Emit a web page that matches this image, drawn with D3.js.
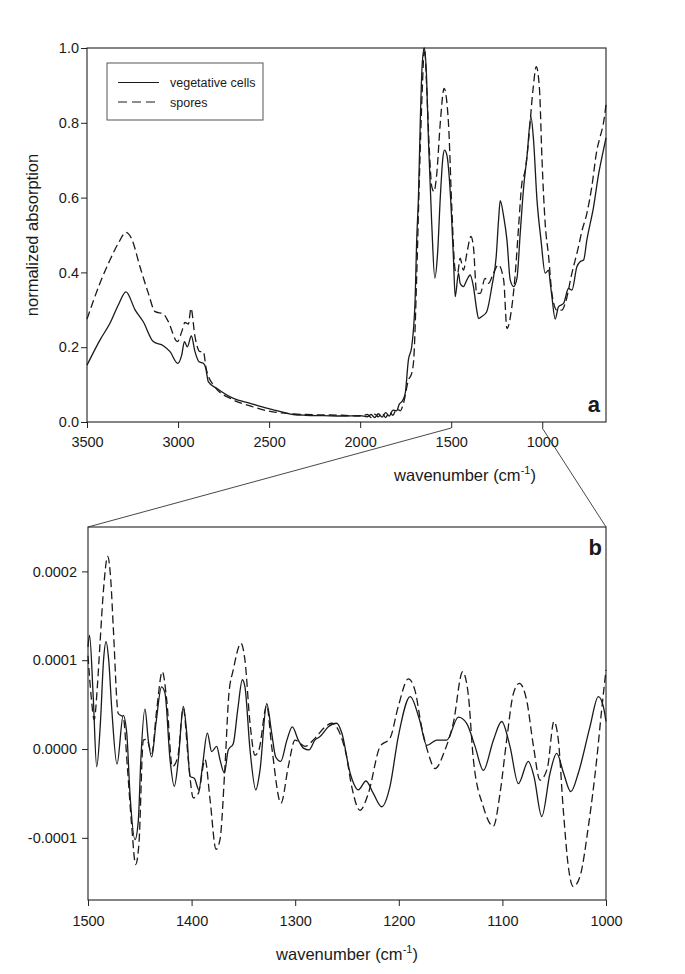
<!DOCTYPE html>
<html>
<head>
<meta charset="utf-8">
<script src="https://cdn.jsdelivr.net/npm/d3@7"></script>
<style>
  body { margin: 0; background: #fff; }
  svg { font-family: "Liberation Sans", Arial, sans-serif; }
  .tick text { fill: #1a1a1a; }
  .tick line { stroke: #222; }
</style>
</head>
<body>
<svg id="chart" width="685" height="974"></svg>
<script>
// ---- panel a: normalized absorption spectra ----
const vegWn = [3500, 3429, 3374, 3328, 3286, 3236, 3191, 3136, 3081, 3044, 3002, 2980, 2965, 2949, 2927, 2907, 2885, 2861, 2848, 2834, 2788, 2696, 2604, 2513, 2421, 2367, 2300, 2200, 2100, 2000, 1960, 1940, 1920, 1900, 1880, 1860, 1840, 1820, 1800, 1785, 1770, 1753, 1735, 1717, 1698, 1690, 1680, 1670, 1660, 1648, 1636, 1625, 1607, 1590, 1575, 1560, 1545, 1537, 1524, 1506, 1488, 1478, 1460, 1451, 1433, 1414, 1396, 1378, 1360, 1350, 1332, 1305, 1277, 1253, 1240, 1231, 1212, 1194, 1176, 1157, 1139, 1121, 1102, 1084, 1062, 1048, 1029, 1007, 984, 965, 956, 947, 929, 911, 883, 856, 837, 810, 791, 773, 755, 718, 690, 672, 650];
const vegAbs = [0.152, 0.219, 0.264, 0.313, 0.348, 0.30, 0.268, 0.215, 0.204, 0.188, 0.157, 0.179, 0.215, 0.201, 0.23, 0.188, 0.161, 0.157, 0.144, 0.108, 0.09, 0.063, 0.05, 0.037, 0.026, 0.02, 0.018, 0.017, 0.016, 0.017, 0.014, 0.02, 0.012, 0.022, 0.013, 0.025, 0.016, 0.032, 0.03, 0.048, 0.055, 0.075, 0.166, 0.201, 0.33, 0.48, 0.60, 0.80, 0.95, 1.0, 0.93, 0.754, 0.531, 0.385, 0.45, 0.60, 0.71, 0.727, 0.714, 0.62, 0.442, 0.335, 0.398, 0.371, 0.362, 0.38, 0.393, 0.362, 0.30, 0.277, 0.282, 0.295, 0.362, 0.442, 0.54, 0.592, 0.55, 0.487, 0.38, 0.362, 0.384, 0.505, 0.629, 0.709, 0.816, 0.754, 0.594, 0.487, 0.398, 0.406, 0.371, 0.335, 0.275, 0.308, 0.317, 0.357, 0.353, 0.415, 0.429, 0.433, 0.487, 0.576, 0.665, 0.709, 0.76];

const sporeWn = [3500, 3429, 3374, 3328, 3286, 3255, 3209, 3163, 3126, 3081, 3053, 3004, 2980, 2962, 2943, 2929, 2907, 2879, 2861, 2846, 2806, 2696, 2604, 2513, 2403, 2300, 2200, 2100, 2000, 1960, 1940, 1920, 1900, 1880, 1860, 1840, 1820, 1800, 1780, 1762, 1735, 1717, 1706, 1689, 1674, 1659, 1647, 1635, 1620, 1607, 1595, 1580, 1560, 1539, 1515, 1497, 1478, 1465, 1451, 1433, 1414, 1392, 1378, 1360, 1341, 1314, 1295, 1268, 1241, 1212, 1194, 1167, 1148, 1130, 1112, 1093, 1075, 1051, 1033, 1015, 1002, 984, 965, 947, 920, 893, 874, 837, 801, 783, 755, 728, 700, 682, 664, 650];
const sporeAbs = [0.275, 0.371, 0.433, 0.478, 0.507, 0.49, 0.415, 0.344, 0.295, 0.289, 0.268, 0.215, 0.241, 0.266, 0.262, 0.304, 0.228, 0.188, 0.188, 0.144, 0.099, 0.059, 0.043, 0.03, 0.023, 0.02, 0.019, 0.018, 0.016, 0.02, 0.012, 0.021, 0.014, 0.024, 0.012, 0.026, 0.018, 0.035, 0.03, 0.05, 0.112, 0.13, 0.166, 0.398, 0.665, 0.888, 1.0, 0.9, 0.727, 0.63, 0.616, 0.66, 0.80, 0.892, 0.799, 0.576, 0.406, 0.398, 0.438, 0.406, 0.451, 0.496, 0.469, 0.344, 0.344, 0.384, 0.371, 0.398, 0.42, 0.38, 0.25, 0.308, 0.398, 0.522, 0.638, 0.674, 0.754, 0.888, 0.95, 0.888, 0.709, 0.531, 0.442, 0.344, 0.299, 0.299, 0.317, 0.398, 0.469, 0.509, 0.558, 0.629, 0.727, 0.763, 0.799, 0.848];

const xTicksA = [3500, 3000, 2500, 2000, 1500, 1000];
const yTicksA = [0.0, 0.2, 0.4, 0.6, 0.8, 1.0];

// ---- panel b: zoomed 1500-1000 region (values in units of 1e-4) ----
const diffVegWn = [1500, 1498.5, 1495, 1491.6, 1488, 1485, 1482.6, 1480, 1477, 1472, 1466, 1462.6, 1459.5, 1454.6, 1451.4, 1449, 1445, 1441.8, 1438.5, 1434.4, 1429, 1425.7, 1420.8, 1416.7, 1412.8, 1408, 1404.7, 1401.5, 1397.4, 1392.9, 1389.6, 1384.8, 1380.6, 1375.8, 1372.6, 1368.4, 1364.6, 1359.8, 1355.5, 1351, 1348.5, 1343.6, 1338, 1334, 1327.5, 1322.7, 1318.8, 1314, 1308, 1302.8, 1297, 1292, 1286.7, 1281, 1276, 1268, 1260, 1255, 1247, 1239, 1231.7, 1224.6, 1216.5, 1208.5, 1200.5, 1189, 1180, 1173, 1163.4, 1153.8, 1142.5, 1134.5, 1126.4, 1118.4, 1108.7, 1100.7, 1092.7, 1084.6, 1075, 1069.5, 1062, 1054, 1047.6, 1041, 1034, 1026.7, 1015.5, 1007.4, 1002.6, 1000];
const diffVeg = [1.15, 1.28, 0.6, -0.2, 0.3, 1.0, 1.21, 1.0, 0.44, -0.17, 0.38, 0.18, -0.5, -1.02, -0.8, -0.12, 0.45, 0.1, -0.09, 0.29, 0.7, 0.63, -0.12, -0.42, -0.12, 0.48, 0.18, -0.31, -0.33, -0.46, -0.2, 0.18, -0.03, 0.03, -0.12, -0.27, -0.01, 0.06, 0.44, 0.78, 0.7, -0.01, -0.46, -0.24, 0.51, 0.18, -0.09, -0.14, 0.1, 0.25, 0.1, 0.01, -0.01, 0.1, 0.14, 0.25, 0.29, 0.18, -0.27, -0.46, -0.36, -0.5, -0.65, -0.42, 0.14, 0.59, 0.33, 0.04, 0.1, 0.1, 0.36, 0.29, 0.03, -0.24, 0.1, 0.31, 0.03, -0.39, -0.14, -0.31, -0.76, -0.27, -0.05, -0.27, -0.48, -0.27, 0.25, 0.59, 0.48, 0.31];

const diffSporeWn = [1500, 1497, 1494, 1491, 1488.4, 1485, 1481, 1478, 1475.6, 1470.8, 1466, 1462, 1457.8, 1454, 1450.8, 1446.6, 1443.4, 1438.5, 1433.7, 1428.3, 1424, 1418.6, 1413.4, 1408, 1403.2, 1398.4, 1393.5, 1387, 1382.2, 1376.4, 1372.6, 1367.8, 1364, 1359.8, 1352.3, 1348.5, 1343.6, 1338.8, 1335, 1327.5, 1322.7, 1313.7, 1306.7, 1300.2, 1290.5, 1281, 1271, 1264.8, 1256, 1251, 1245.5, 1237.5, 1229.4, 1218, 1208.5, 1200.5, 1190.8, 1184.4, 1178, 1171.5, 1165, 1155.4, 1147.4, 1138.4, 1133, 1128, 1118.4, 1108.7, 1102.3, 1095.9, 1089.5, 1083.7, 1076.6, 1070, 1063.7, 1056.7, 1050.2, 1046, 1041.2, 1036.4, 1031.6, 1025, 1017, 1009, 1004.2, 1000];
const diffSpore = [1.05, 0.6, 0.33, 0.7, 1.19, 1.8, 2.17, 1.9, 1.37, 0.4, 0.36, -0.2, -0.87, -1.3, -1.06, 0.1, 0.11, -0.05, 0.44, 0.87, 0.55, -0.2, -0.09, 0.46, -0.12, -0.55, -0.5, -0.12, -0.57, -1.13, -1.02, -0.2, 0.62, 0.89, 1.19, 1.0, 0.29, -0.07, -0.01, 0.49, 0.03, -0.61, -0.2, 0.1, 0.03, 0.12, 0.25, 0.29, 0.15, -0.05, -0.42, -0.69, -0.5, 0.03, 0.12, 0.48, 0.79, 0.66, 0.25, -0.05, -0.22, -0.01, 0.29, 0.87, 0.62, -0.12, -0.65, -0.87, -0.5, 0.1, 0.62, 0.74, 0.55, 0.03, -0.35, -0.22, 0.31, 0.1, -0.69, -1.32, -1.55, -1.43, -0.87, -0.12, 0.44, 0.89];

const xTicksB = [1500, 1400, 1300, 1200, 1100, 1000];
const yTicksB = [-0.0001, 0.0, 0.0001, 0.0002];

const seriesNames = ["vegetative cells", "spores"];

const svg = d3.select("#chart");
const ink = "#1a1a1a";

// scales
let xA = d3.scaleLinear().domain([3500, 650]).range([87, 606]);
let yA = d3.scaleLinear().domain([0, 1]).range([422, 48]);
let xB = d3.scaleLinear().domain([1500, 1000]).range([88, 606]);
let yB = d3.scaleLinear().domain([-0.00017, 0.00025]).range([900, 527]);

function zip(wn, vals, k) {
    return wn.map(function(w, i) { return {w: w, v: vals[i] * k}; });
}

function drawPanel(x, y, series, xTicks, yTicks, yFmt, yPad, xPad) {
    let g = svg.append("g");

    g.append("g")
        .attr("transform", "translate(0," + y.range()[0] + ")")
        .call(d3.axisBottom(x).tickValues(xTicks).tickSize(6).tickSizeOuter(0)
            .tickPadding(xPad).tickFormat(d3.format("d")))
        .call(function(a) { a.select(".domain").remove(); })
        .selectAll("text").style("font-size", "14.5px");

    g.append("g")
        .attr("transform", "translate(" + x.range()[0] + ",0)")
        .call(d3.axisLeft(y).tickValues(yTicks).tickSize(6).tickSizeOuter(0)
            .tickPadding(yPad).tickFormat(yFmt))
        .call(function(a) { a.select(".domain").remove(); })
        .selectAll("text").style("font-size", "14.5px");

    // frame
    g.append("rect")
        .attr("x", x.range()[0]).attr("y", y.range()[1])
        .attr("width", x.range()[1] - x.range()[0])
        .attr("height", y.range()[0] - y.range()[1])
        .attr("fill", "none").attr("stroke", "#222").attr("stroke-width", 1.1);

    let line = d3.line()
        .x(function(d) { return x(d.w); })
        .y(function(d) { return y(d.v); })
        .curve(d3.curveMonotoneX);

    series.forEach(function(s) {
        g.append("path")
            .datum(s.data)
            .attr("fill", "none")
            .attr("stroke", ink)
            .attr("stroke-width", 1.3)
            .attr("stroke-dasharray", s.dash)
            .attr("d", line);
    });
    return g;
}

// panel a
let gA = drawPanel(xA, yA, [
        {data: zip(vegWn, vegAbs, 1), dash: null},
        {data: zip(sporeWn, sporeAbs, 1), dash: "8,4"}
    ], xTicksA, yTicksA, d3.format(".1f"), 2, 9);

// panel b
let gB = drawPanel(xB, yB, [
        {data: zip(diffVegWn, diffVeg, 1e-4), dash: null},
        {data: zip(diffSporeWn, diffSpore, 1e-4), dash: "8,4"}
    ], xTicksB, yTicksB, function(d) { return d.toFixed(4); }, 5, 10);

// connector lines from panel a's axis to panel b's frame
[1500, 1000].forEach(function(w) {
    svg.append("line")
        .attr("x1", xA(w)).attr("y1", yA.range()[0] + 6)
        .attr("x2", xB(w)).attr("y2", yB.range()[1])
        .attr("stroke", "#333").attr("stroke-width", 0.9);
});

// legend
let leg = gA.append("g");
leg.append("rect")
    .attr("x", 107).attr("y", 63).attr("width", 156).attr("height", 57)
    .attr("fill", "#fff").attr("stroke", "#555").attr("stroke-width", 1);
seriesNames.forEach(function(name, i) {
    let yy = 82.5 + i * 19.5;
    leg.append("line")
        .attr("x1", 118).attr("x2", 159).attr("y1", yy).attr("y2", yy)
        .attr("stroke", ink).attr("stroke-width", 1.2)
        .attr("stroke-dasharray", i === 1 ? "9,5" : null);
    leg.append("text")
        .attr("x", 170).attr("y", yy + 4.5)
        .style("font-size", "12.5px").attr("fill", ink)
        .text(name);
});

// panel letters
svg.append("text").attr("x", 600).attr("y", 412).attr("text-anchor", "end")
    .style("font-size", "22px").style("font-weight", "bold").attr("fill", ink).text("a");
svg.append("text").attr("x", 602).attr("y", 555).attr("text-anchor", "end")
    .style("font-size", "22px").style("font-weight", "bold").attr("fill", ink).text("b");

// axis titles
function wavenumberTitle(cx, cy) {
    let t = svg.append("text")
        .attr("x", cx).attr("y", cy).attr("text-anchor", "middle")
        .style("font-size", "16.5px").attr("fill", ink);
    t.append("tspan").text("wavenumber (cm");
    t.append("tspan").attr("dy", -7).style("font-size", "11px").text("-1");
    t.append("tspan").attr("dy", 7).text(")");
}
wavenumberTitle(465, 481);
wavenumberTitle(347, 960);

svg.append("text")
    .attr("transform", "translate(38,235) rotate(-90)")
    .attr("text-anchor", "middle")
    .style("font-size", "16.5px").attr("fill", ink)
    .text("normalized absorption");
</script>
</body>
</html>
